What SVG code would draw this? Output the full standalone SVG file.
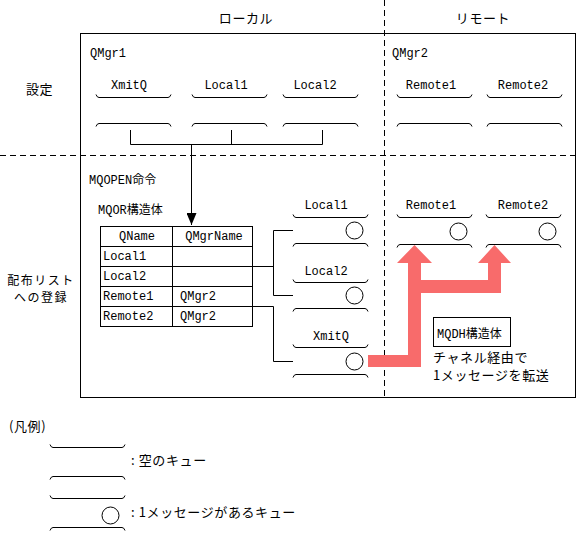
<svg xmlns="http://www.w3.org/2000/svg" xmlns:xlink="http://www.w3.org/1999/xlink" width="578" height="534" viewBox="0 0 578 534">
<style>
.ln{fill:none;stroke:#000;stroke-width:1}
.dash{fill:none;stroke:#000;stroke-width:1;stroke-dasharray:6 4}
.t{font-family:"Liberation Mono","Noto Sans CJK JP",monospace;font-size:12px;fill:#000}
.j{font-family:"Noto Sans CJK JP",sans-serif;font-size:13px;fill:#000;letter-spacing:0.6px}
.s{font-size:12px;letter-spacing:1.5px}
.m{text-anchor:middle}
.msg{fill:#fff;stroke:#000;stroke-width:1}
</style>
<defs>
<path id="qtop" d="M0,-3 Q1,0 3,0 H72 Q74,0 75,-3" fill="none" stroke="#000"/>
<path id="qbot" d="M0,3 Q1,0 3,0 H72 Q74,0 75,3" fill="none" stroke="#000"/>
<marker id="ah" markerWidth="12" markerHeight="10" refX="12" refY="5" orient="auto" markerUnits="userSpaceOnUse" viewBox="0 0 12 10">
<path d="M0,0 L12,5 L0,10 Z" fill="#000"/>
</marker>
</defs>
<rect width="578" height="534" fill="#fff"/>

<g id="frame">
<rect class="ln" x="80.5" y="33.5" width="495" height="364"/>
<line class="dash" x1="384.5" y1="0" x2="384.5" y2="397"/>
<line class="dash" x1="0" y1="155.5" x2="575" y2="155.5"/>
<text class="j m" x="246" y="23">ローカル</text>
<text class="j m" x="483" y="23">リモート</text>
<text class="j" x="26" y="94" font-size="14">設定</text>
<text class="j s m" x="41" y="285">配布リスト</text>
<text class="j s m" x="41" y="302">への登録</text>
<text class="t" x="90" y="57">QMgr1</text>
<text class="t" x="392" y="57">QMgr2</text>
<text class="t" x="89" y="184">MQOPEN命令</text>
<text class="t" x="98" y="214">MQOR構造体</text>
</g>

<g id="setup-xmitq">
<text class="t m" x="129" y="89">XmitQ</text>
<use xlink:href="#qtop" x="96" y="97.5"/>
<use xlink:href="#qbot" x="96" y="123.5"/>
</g>
<g id="setup-local1">
<text class="t m" x="226" y="89">Local1</text>
<use xlink:href="#qtop" x="192" y="97.5"/>
<use xlink:href="#qbot" x="192" y="123.5"/>
</g>
<g id="setup-local2">
<text class="t m" x="315" y="89">Local2</text>
<use xlink:href="#qtop" x="283" y="97.5"/>
<use xlink:href="#qbot" x="283" y="123.5"/>
</g>
<g id="setup-remote1">
<text class="t m" x="431" y="89">Remote1</text>
<use xlink:href="#qtop" x="397" y="97.5"/>
<use xlink:href="#qbot" x="397" y="123.5"/>
</g>
<g id="setup-remote2">
<text class="t m" x="523" y="89">Remote2</text>
<use xlink:href="#qtop" x="487" y="97.5"/>
<use xlink:href="#qbot" x="487" y="123.5"/>
</g>

<g id="mqor-table">
<rect class="ln" x="100.5" y="226.5" width="152" height="100"/>
<line class="ln" x1="172.5" y1="226" x2="172.5" y2="326"/>
<line class="ln" x1="100" y1="246.5" x2="252" y2="246.5"/>
<line class="ln" x1="100" y1="266.5" x2="252" y2="266.5"/>
<line class="ln" x1="100" y1="286.5" x2="252" y2="286.5"/>
<line class="ln" x1="100" y1="306.5" x2="252" y2="306.5"/>
<text class="t m" x="137" y="240">QName</text>
<text class="t m" x="214" y="240">QMgrName</text>
<text class="t" x="103" y="260">Local1</text>
<text class="t" x="103" y="280">Local2</text>
<text class="t" x="103" y="300">Remote1</text>
<text class="t" x="180" y="300">QMgr2</text>
<text class="t" x="103" y="320">Remote2</text>
<text class="t" x="180" y="320">QMgr2</text>
</g>

<g id="dist-local1">
<text class="t m" x="326" y="209">Local1</text>
<use xlink:href="#qtop" x="293" y="217.5"/>
<use xlink:href="#qbot" x="293" y="243.5"/>
<circle class="msg" cx="354.5" cy="230.5" r="8.5"/>
</g>
<g id="dist-local2">
<text class="t m" x="326" y="275">Local2</text>
<use xlink:href="#qtop" x="293" y="282.5"/>
<use xlink:href="#qbot" x="293" y="308.5"/>
<circle class="msg" cx="354.5" cy="295.5" r="8.5"/>
</g>
<g id="dist-xmitq">
<text class="t m" x="331" y="340">XmitQ</text>
<use xlink:href="#qtop" x="293" y="347.5"/>
<use xlink:href="#qbot" x="293" y="374.5"/>
<circle class="msg" cx="354.5" cy="361.5" r="8.5"/>
</g>
<g id="dist-remote1">
<text class="t m" x="431" y="209">Remote1</text>
<use xlink:href="#qtop" x="397" y="217.5"/>
<use xlink:href="#qbot" x="397" y="244.5"/>
<circle class="msg" cx="458.5" cy="231.5" r="8.5"/>
</g>
<g id="dist-remote2">
<text class="t m" x="523" y="209">Remote2</text>
<use xlink:href="#qtop" x="486" y="217.5"/>
<use xlink:href="#qbot" x="486" y="244.5"/>
<circle class="msg" cx="547.5" cy="231.5" r="8.5"/>
</g>

<g id="mqdh">
<rect class="ln" x="433.5" y="317.5" width="77" height="29"/>
<text class="t" x="437" y="338">MQDH構造体</text>
<text class="j" x="433" y="362">チャネル経由で</text>
<text class="j" x="433" y="380">1メッセージを転送</text>
</g>

<g id="connectors">
<path class="ln" d="M130.5,130 V144.5 H322.5 V130"/>
<line class="ln" x1="231.5" y1="130" x2="231.5" y2="144"/>
<line class="ln" x1="191.5" y1="144" x2="191.5" y2="225" marker-end="url(#ah)"/>
<path class="ln" d="M252,266.5 H273.5"/>
<path class="ln" d="M293,230.5 H273.5 V295.5 H293"/>
<path class="ln" d="M252,306.5 H273.5 V361.5 H293"/>
<polygon fill="#f86b6b" points="368,355 408,355 408,263 397,263 414.5,245 432,263 421,263 421,280 488,280 488,263 478,263 494.5,245 511,263 501,263 501,293 421,293 421,367 368,367"/>
</g>

<g id="legend">
<text class="j" x="9" y="431">(凡例)</text>
<use xlink:href="#qtop" x="50" y="447.5"/>
<use xlink:href="#qbot" x="50" y="476.5"/>
<text class="j" x="131" y="465">: 空のキュー</text>
<use xlink:href="#qtop" x="50" y="498.5"/>
<use xlink:href="#qbot" x="50" y="527.5"/>
<circle class="msg" cx="110.5" cy="515.5" r="8.5"/>
<text class="j" x="131" y="517">: 1メッセージがあるキュー</text>
</g>
</svg>
